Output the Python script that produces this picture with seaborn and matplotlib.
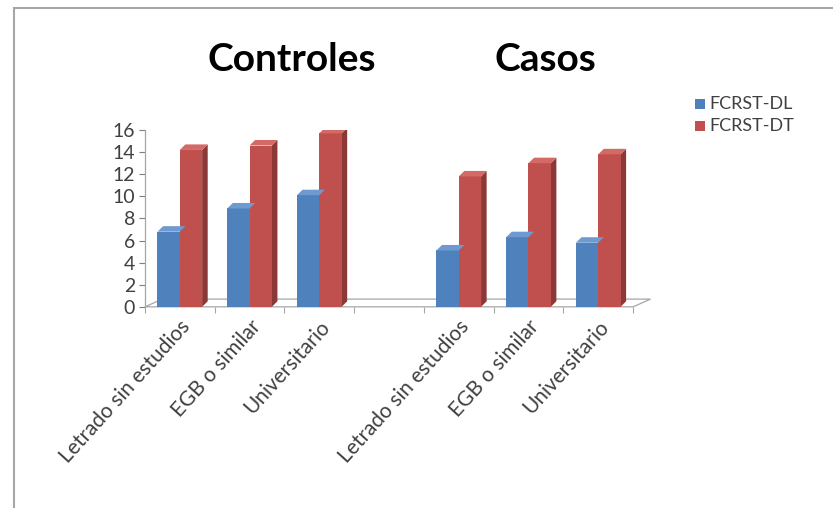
import pandas as pd
import matplotlib.pyplot as plt
import seaborn as sns
from matplotlib.patches import Polygon, Rectangle

# Data
groups = ["Controles", "Controles", "Controles", "", "Casos", "Casos", "Casos"]
levels = ["Letrado sin estudios", "EGB o similar", "Universitario", "",
          "Letrado sin estudios", "EGB o similar", "Universitario"]
fcrst_dl = [6.8, 8.9, 10.1, None, 5.1, 6.3, 5.8]
fcrst_dt = [14.2, 14.6, 15.7, None, 11.8, 13.0, 13.8]
series = ["FCRST-DL", "FCRST-DT"]

BLUE = "#4F81BD"
RED = "#C0504D"
SIDE = {BLUE: "#385D8A", RED: "#8C3836"}
TOP = {BLUE: "#6E9AD1", RED: "#D46A66"}


def build_frame():
    keys = [f"{g}|{l}|{i}" for i, (g, l) in enumerate(zip(groups, levels))]
    rows = []
    for k, a, b in zip(keys, fcrst_dl, fcrst_dt):
        rows.append({"cat": k, "serie": series[0], "valor": a})
        rows.append({"cat": k, "serie": series[1], "valor": b})
    return pd.DataFrame(rows), keys


def main():
    sns.set_theme(style="white")
    plt.rcParams["font.family"] = ["Lato", "DejaVu Sans"]

    df, keys = build_frame()
    fig = plt.figure(figsize=(8.33, 5.08), dpi=100)
    ax = fig.add_axes([0.174, 0.396, 0.586, 0.348])

    sns.barplot(data=df, x="cat", y="valor", hue="serie", order=keys,
                hue_order=series, palette=[BLUE, RED], width=0.64,
                saturation=1, legend=False, ax=ax, zorder=3, linewidth=0)

    # fake 3D: side and top faces from each bar patch
    dx, dy = 0.08, 0.5
    for p in list(ax.patches):
        h = p.get_height()
        if not h or h != h:
            continue
        x0, w = p.get_x(), p.get_width()
        c = BLUE if abs(p.get_facecolor()[2] - 0.741) < 0.05 else RED
        side = Polygon([(x0 + w, 0), (x0 + w + dx, dy), (x0 + w + dx, h + dy), (x0 + w, h)],
                       closed=True, facecolor=SIDE[c], edgecolor="none", zorder=2.9)
        top = Polygon([(x0, h), (x0 + dx, h + dy), (x0 + w + dx, h + dy), (x0 + w, h)],
                      closed=True, facecolor=TOP[c], edgecolor="none", zorder=3.1)
        ax.add_patch(side)
        ax.add_patch(top)

    # floor
    floor = Polygon([(-0.5, 0), (6.5, 0), (6.5 + 0.25, 0.7), (-0.5 + 0.25, 0.7)],
                    closed=True, facecolor="none", edgecolor="#A6A6A6", lw=0.9,
                    zorder=1, clip_on=False)
    ax.add_patch(floor)

    ax.set_xlim(-0.5, 6.5)
    ax.set_ylim(0, 16)
    ax.set_yticks(range(0, 17, 2))
    ax.tick_params(axis="y", labelsize=14, colors="#7F7F7F", labelcolor="#404040",
                   length=4, width=0.8, left=True, pad=3)
    ax.set_xticks(range(7))
    ax.set_xticklabels(levels, rotation=48, ha="right", rotation_mode="anchor",
                       fontsize=15, color="#404040")
    ax.set_xticks([i - 0.5 for i in range(8)], minor=True)
    ax.tick_params(axis="x", which="major", length=0, pad=7)
    ax.tick_params(axis="x", which="minor", length=4, width=0.8, colors="#A6A6A6",
                   bottom=True)
    ax.set_xlabel("")
    ax.set_ylabel("")
    for s in ["top", "right", "bottom"]:
        ax.spines[s].set_visible(False)
    ax.spines["left"].set_color("#A6A6A6")
    ax.spines["left"].set_linewidth(0.9)

    # group titles
    fig.text(0.350, 0.882, "Controles", fontsize=28, fontweight="bold",
             ha="center", va="center", color="black")
    fig.text(0.655, 0.882, "Casos", fontsize=28, fontweight="bold",
             ha="center", va="center", color="black")

    # legend
    for i, (name, col) in enumerate(zip(series, [BLUE, RED])):
        yy = 0.795 - i * 0.043
        fig.patches.append(Rectangle((0.834, yy - 0.01), 0.012, 0.02,
                                     transform=fig.transFigure, facecolor=col,
                                     edgecolor="none"))
        fig.text(0.852, yy, name, fontsize=13, va="center", color="#404040")

    # outer frame
    fig.patches.append(Rectangle((0.017, -0.1), 1.2, 1.084, transform=fig.transFigure,
                                 facecolor="none", edgecolor="#A6A6A6", lw=1.5))

    fig.savefig("out.png", dpi=100)


if __name__ == "__main__":
    main()
